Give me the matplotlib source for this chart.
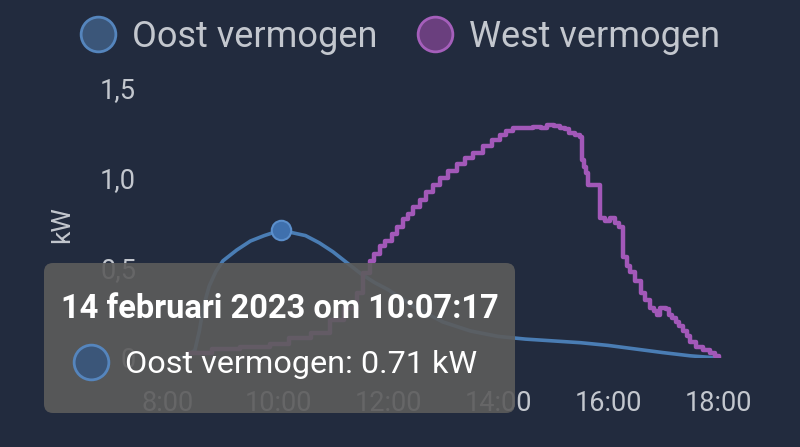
import matplotlib.pyplot as plt
from matplotlib.lines import Line2D
from matplotlib.patches import FancyBboxPatch
import numpy as np

plt.rcParams['font.family'] = ['Roboto', 'DejaVu Sans']

# hours of the day (decimal) and power in kW
oost_t = [8.2, 8.35, 8.49, 8.57, 8.64, 8.75, 8.87, 9.0, 9.25, 9.5, 9.75, 10.05,
          10.5, 10.75, 11.0, 11.25, 11.5, 11.75, 12.0, 12.5, 13.0, 13.5, 14.0,
          14.5, 15.0, 15.5, 16.0, 16.5, 17.0, 17.5, 18.0]
oost_kw = [0.0, 0.01, 0.044, 0.15, 0.28, 0.40, 0.48, 0.54, 0.60, 0.65, 0.68, 0.71,
           0.68, 0.64, 0.59, 0.53, 0.47, 0.42, 0.38, 0.28, 0.20, 0.15, 0.12,
           0.105, 0.095, 0.085, 0.07, 0.05, 0.03, 0.012, 0.0]

west_t = [8.4, 8.8, 9.3, 9.85, 10.2, 10.6, 10.95, 11.2, 11.44, 11.55, 11.67, 11.75,
          11.85, 11.95, 12.07, 12.17, 12.27, 12.37, 12.45, 12.58, 12.7, 12.82,
          12.95, 13.1, 13.25, 13.4, 13.55, 13.72, 13.9, 14.04, 14.15, 14.27,
          14.45, 14.64, 14.78, 14.9, 15.02, 15.13, 15.22, 15.3, 15.4, 15.5,
          15.52, 15.56, 15.6, 15.63, 15.85, 15.95, 16.04, 16.12, 16.2, 16.27,
          16.35, 16.4, 16.5, 16.6, 16.68, 16.76, 16.83, 16.9, 16.95, 17.05,
          17.1, 17.16, 17.23, 17.3, 17.36, 17.43, 17.5, 17.6, 17.72, 17.85,
          17.95, 18.02]
west_kw = [0.03, 0.05, 0.06, 0.08, 0.11, 0.14, 0.21, 0.28, 0.36, 0.47, 0.54, 0.58,
           0.62, 0.65, 0.69, 0.73, 0.77, 0.80, 0.84, 0.88, 0.92, 0.96,
           1.00, 1.04, 1.08, 1.11, 1.14, 1.18, 1.21, 1.24, 1.26, 1.28,
           1.28, 1.285, 1.28, 1.295, 1.29, 1.28, 1.27, 1.25, 1.24, 1.23,
           1.10, 1.06, 1.03, 0.96, 0.78, 0.76, 0.78, 0.75, 0.73, 0.56,
           0.51, 0.48, 0.43, 0.36, 0.32, 0.28, 0.26, 0.24, 0.28, 0.27,
           0.24, 0.22, 0.20, 0.18, 0.15, 0.12, 0.09, 0.06, 0.045, 0.03,
           0.01, 0.0]

x_ticks = [8, 10, 12, 14, 16, 18]
x_labels = ['8:00', '10:00', '12:00', '14:00', '16:00', '18:00']
y_ticks = [0, 0.5, 1.0, 1.5]
y_labels = ['0', '0,5', '1,0', '1,5']

labels = ['Oost vermogen', 'West vermogen']
tooltip_title = '14 februari 2023 om 10:07:17'
tooltip_line = 'Oost vermogen: 0.71 kW'

bg = '#222b3e'
blue = '#4a7db4'
purple = '#a258b8'
txt = '#c3c7ce'

fig = plt.figure(figsize=(8, 4.47), dpi=100, facecolor=bg)
ax = fig.add_axes([165.25 / 800, 1 - 358 / 447, 558.25 / 800, 270 / 447])
ax.set_facecolor(bg)

ax.plot(oost_t, oost_kw, color=blue, lw=2.6, zorder=3)
ax.plot(west_t, west_kw, color=purple, lw=3.2, drawstyle='steps-post', zorder=4)

# hovered point
peak = int(np.argmax(oost_kw))
ax.plot(oost_t[peak], oost_kw[peak], 'o', ms=14, mfc='#3f70ad', mec='#5b8fcc',
        mew=1.5, zorder=5)

ax.set_xlim(7.95, 18.1)
ax.set_ylim(0, 1.5)
ax.set_xticks(x_ticks, x_labels)
ax.set_yticks(y_ticks, y_labels)
ax.tick_params(length=0, colors=txt, labelsize=19.5)
ax.tick_params(axis='x', pad=23)
ax.tick_params(axis='y', pad=21)
for s in ax.spines.values():
    s.set_visible(False)

fig.text(62 / 800, 1 - 225 / 447, 'kW', rotation=90, color=txt, fontsize=19,
         ha='center', va='center')

handles = [Line2D([], [], ls='', marker='o', ms=25, mfc='#3b5679', mec='#5585bd', mew=2),
           Line2D([], [], ls='', marker='o', ms=25, mfc='#6a3f7e', mec='#a55fbb', mew=2)]
fig.legend(handles, labels, loc='upper center', bbox_to_anchor=(0.5, 0.99), ncol=2,
           frameon=False, fontsize=26, labelcolor=txt, handlelength=1.0,
           handletextpad=0.45, columnspacing=1.1, borderaxespad=0)

# tooltip overlay in pixel coordinates
ov = fig.add_axes([0, 0, 1, 1], zorder=10)
ov.set_xlim(0, 800)
ov.set_ylim(447, 0)
ov.axis('off')
ov.add_patch(FancyBboxPatch((44, 263), 471, 150,
                            boxstyle='round,pad=0,rounding_size=9',
                            fc='#5c5c5c', ec='none', alpha=0.9))
ov.text(280, 318, tooltip_title, color='white', fontsize=23.5, fontweight='bold',
        ha='center', va='baseline')
ov.plot(91, 362, 'o', ms=25, mfc='#3b5679', mec='#5585bd', mew=2)
ov.text(125, 373, tooltip_line, color='white', fontsize=23.3, ha='left', va='baseline')

fig.savefig('out.png', dpi=100, facecolor=bg)
